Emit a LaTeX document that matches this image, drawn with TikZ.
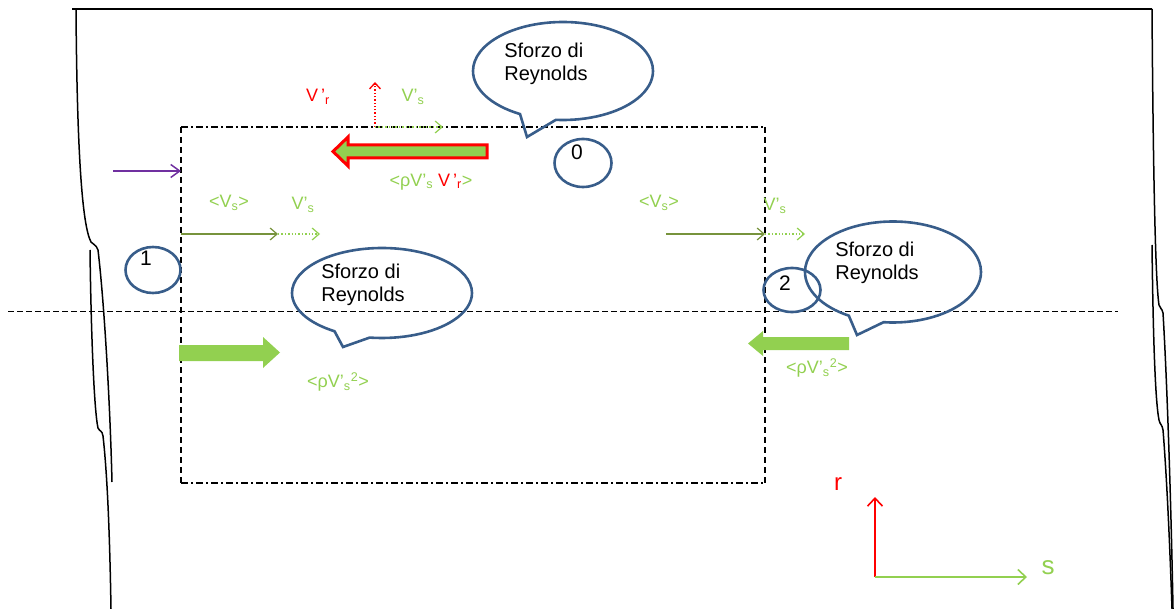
\documentclass[tikz,border=0pt]{standalone}
\usepackage{fontspec}
\setmainfont{Liberation Sans}
\usetikzlibrary{arrows.meta,shapes.geometric,shapes.callouts}
\definecolor{lgreen}{RGB}{146,208,80}
\definecolor{olive}{RGB}{119,147,60}
\definecolor{cblue}{RGB}{56,93,138}
\definecolor{purp}{RGB}{112,48,160}
\begin{document}
\begin{tikzpicture}[x=1pt,y=-1pt,
  wall/.style={line width=1.5pt,black},
  axisline/.style={dash pattern=on 6pt off 3pt,line width=1pt},
  rectside/.style={dash pattern=on 6pt off 4pt,line width=1.2pt},
  recttop/.style={dash pattern=on 7pt off 3pt on 2pt off 3pt,line width=1.1pt},
  barb/.style={-{Straight Barb[length=7pt,width=12pt,line width=1.2pt]}},
  meanarrow/.style={barb,olive,line width=1.3pt},
  flucarrow/.style={barb,lgreen,line width=1.4pt,dotted},
  callout/.style={ellipse callout,draw=cblue,line width=2.6pt,inner sep=0pt,callout pointer arc=24},
  ctext/.style={align=left,font=\fontsize{20}{23}\selectfont,inner sep=0pt},
  circ/.style={ellipse,draw=cblue,line width=2.6pt,inner sep=0pt},
  digit/.style={font=\fontsize{21}{24}\selectfont,inner sep=0pt},
  lab/.style={font=\fontsize{18}{21}\selectfont,inner sep=0pt,text=lgreen},
  fat/.style={fill=lgreen,draw=none}
]
\useasboundingbox (0,0) rectangle (1174,609);

% walls
\draw[wall] (72,9) -- (1152,9);
\draw[wall] (76,9) .. controls (77,150) and (82,225) .. (91,242) .. controls (93,245) and (96,244) .. (98,250) .. controls (104,300) and (110,400) .. (112,482);
\draw[wall] (90,250) .. controls (91,330) and (94,410) .. (98,428) .. controls (100,432) and (102,430) .. (103,436) .. controls (108,480) and (110,550) .. (111,609);
\draw[wall] (1152,9) .. controls (1153,150) and (1155,280) .. (1159,305) .. controls (1160,309) and (1162,308) .. (1163,313) .. controls (1167,380) and (1171,500) .. (1173,609);
\draw[wall] (1152,245) .. controls (1153,330) and (1155,400) .. (1159,420) .. controls (1160,425) and (1162,424) .. (1163,430) .. controls (1167,480) and (1170,550) .. (1172,609);

% axis line
\draw[axisline] (8,311) -- (1118,311);

% control volume
\coordinate (tl) at (181,127);
\coordinate (tr) at (765,127);
\coordinate (br) at (765,483);
\coordinate (bl) at (181,483);
\draw[recttop] (tl) -- (tr);
\draw[recttop] (bl) -- (br);
\draw[rectside] (tl) -- (bl);
\draw[rectside] (tr) -- (br);

% purple arrow
\coordinate (pa) at (113,171);
\coordinate (pb) at (181,171);
\draw[purp,line width=1.5pt,-{Straight Barb[length=9pt,width=13pt,line width=1.5pt]}] (pa) -- (pb);

% section 1 velocity arrows
\coordinate (a1s) at (181,234);
\coordinate (a1m) at (278,234);
\coordinate (a1e) at (320,234);
\draw[meanarrow] (a1s) -- (a1m);
\draw[flucarrow] (a1m) -- (a1e);
\node[lab] (m1) at (229,203) {<V\textsubscript{s}>};
\node[lab] (f1) at (303,205) {V’\textsubscript{s}};

% section 2 velocity arrows
\coordinate (a2s) at (666,234);
\coordinate (a2m) at (765,234);
\coordinate (a2e) at (805,234);
\draw[meanarrow] (a2s) -- (a2m);
\draw[flucarrow] (a2m) -- (a2e);
\node[lab] (m2) at (659,203) {<V\textsubscript{s}>};
\node[lab] (f2) at (775,206) {V’\textsubscript{s}};

% top fluctuations
\coordinate (o0) at (375,127);
\coordinate (vr) at (375,82);
\coordinate (vs) at (443,127);
\draw[red,line width=1.3pt,dotted,-{Straight Barb[length=6pt,width=11pt,line width=1.3pt]}] (o0) -- (vr);
\draw[flucarrow] (o0) -- (vs);
\node[lab,text=red] (lvr) at (318,97) {V\,’\textsubscript{r}};
\node[lab] (lvs) at (413,97) {V’\textsubscript{s}};

% fat arrows
\draw[fill=lgreen,draw=red,line width=3pt] (487,145) -- (348,145) -- (348,137) -- (333,151.5) -- (348,166) -- (348,158) -- (487,158) -- cycle;
\draw[fat] (179,345) -- (263,345) -- (263,337) -- (280,352.5) -- (263,368) -- (263,361) -- (179,361) -- cycle;
\draw[fat] (849,337) -- (763,337) -- (763,331) -- (748,343.5) -- (763,356) -- (763,350) -- (849,350) -- cycle;

\node[lab] (ls0) at (431,182) {<ρV’\textsubscript{s} {\color{red}V\,’\textsubscript{r}}>};
\node[lab] (ls1) at (338,382) {<ρV’\textsubscript{s}\textsuperscript{2}>};
\node[lab] (ls2) at (817,368) {<ρV’\textsubscript{s}\textsuperscript{2}>};

% callouts
\coordinate (p0) at (527,137);
\coordinate (p1) at (343,347);
\coordinate (p2) at (857,335);
\node[callout,minimum width=180pt,minimum height=98pt,callout absolute pointer={(p0)}] (cb0) at (563,71) {};
\node[callout,minimum width=180pt,minimum height=90pt,callout absolute pointer={(p1)}] (cb1) at (382,293) {};
\node[callout,minimum width=176pt,minimum height=101pt,callout absolute pointer={(p2)}] (cb2) at (893,272) {};
\node[ctext] (t0) at (546,64) {Sforzo di\\Reynolds};
\node[ctext] (t1) at (363,285) {Sforzo di\\Reynolds};
\node[ctext] (t2) at (877,263) {Sforzo di\\Reynolds};

% section circles
\node[circ,minimum width=57pt,minimum height=48pt] (c0) at (583,163) {};
\node[circ,minimum width=55pt,minimum height=46pt] (c1) at (153,270) {};
\node[circ,minimum width=57pt,minimum height=44pt] (c2) at (792,290) {};
\node[digit] (d0) at (577,152) {0};
\node[digit] (d1) at (146,258) {1};
\node[digit] (d2) at (785,283) {2};

% reference axes
\coordinate (or) at (875,577);
\coordinate (rt) at (875,497);
\coordinate (st) at (1027,577);
\draw[red,line width=1.6pt,-{Straight Barb[length=8pt,width=15pt,line width=1.6pt]}] (or) -- (rt);
\draw[lgreen,line width=1.6pt,-{Straight Barb[length=8pt,width=15pt,line width=1.6pt]}] (or) -- (st);
\node[lab,text=red,font=\fontsize{24}{28}\selectfont] (rl) at (838,484) {r};
\node[lab,font=\fontsize{26}{30}\selectfont] (sl) at (1048,568) {s};
\end{tikzpicture}
\end{document}
